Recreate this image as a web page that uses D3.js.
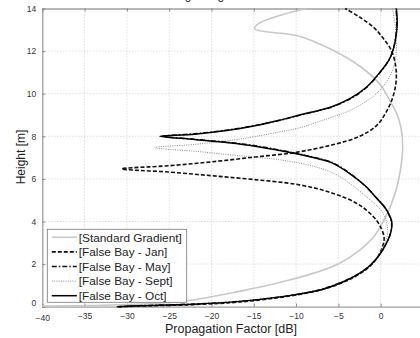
<!DOCTYPE html>
<html>
<head>
<meta charset="utf-8">
<script src="https://cdn.jsdelivr.net/npm/d3@7"></script>
<style>
  body { margin: 0; background: #fff; }
  text { font-family: "Liberation Sans", Arial, sans-serif; }
</style>
</head>
<body>
<div id="chart"></div>
<script>
// Tick values
const xTicks = [-40, -35, -30, -25, -20, -15, -10, -5, 0];
const yTicks = [0, 2, 4, 6, 8, 10, 12, 14];

// Curves as [propagation factor dB, height m]
const standardGradient = [
  [-40, 0.03], [-30, 0.1], [-23, 0.27], [-16.7, 0.72], [-10.8, 1.25], [-4.85, 2.04],
  [-1, 3.2], [0.8, 4.4], [1.9, 5.6], [2.4, 6.6], [2.6, 7.5], [2.4, 8.4], [1.85, 9.1],
  [0.9, 9.8], [-0.1, 10.45], [-2.5, 11.3], [-5.7, 12.05], [-9.6, 12.7], [-14.9, 13.05],
  [-14.4, 13.3], [-9.6, 13.93], [-8.8, 14]
];
const falseBayJan = [
  [-31, 0], [-28.5, 0.03], [-22, 0.1], [-16.7, 0.22], [-10.8, 0.5], [-7, 0.8],
  [-4.85, 1.08], [-3, 1.42], [-1.5, 1.82], [-0.4, 2.3], [0.2, 2.8], [0.4, 3.25], [-0.4, 4.0],
  [-2.5, 4.77], [-5.7, 5.33], [-9.6, 5.72], [-15, 5.97], [-20, 6.15], [-25, 6.32],
  [-30.6, 6.47], [-25, 6.62], [-20, 6.8], [-15, 7.02], [-10, 7.25], [-5.7, 7.6],
  [-2.5, 8.0], [-0.5, 8.5], [0.6, 9.1], [1.4, 9.8], [1.8, 10.5], [1.8, 11.2],
  [1.3, 12.0], [0.3, 12.6], [-0.8, 13.1], [-2.5, 13.6], [-4.2, 14.0]
];
const falseBayMay = [
  [-31.2, 0], [-28.5, 0.05], [-22, 0.13], [-16.7, 0.25], [-10.8, 0.52], [-7, 0.82],
  [-4.85, 1.12], [-3, 1.46], [-1.5, 1.86], [-0.3, 2.36], [0.7, 3.0], [1.2, 3.5], [1.25, 4.0],
  [0.5, 4.65], [-0.6, 5.15], [-1.8, 5.65], [-3.5, 6.22], [-5.7, 6.76], [-8.5, 7.07], [-11.5, 7.32],
  [-15, 7.57], [-18, 7.72], [-22, 7.86], [-25.8, 8.0], [-22, 8.12], [-18, 8.3],
  [-15, 8.5], [-12, 8.74], [-9.6, 8.98], [-7, 9.24], [-5.7, 9.38], [-3.5, 9.78],
  [-1.7, 10.28], [-0.1, 10.98], [1.0, 11.6], [1.5, 12.1], [1.8, 12.8], [1.9, 13.4], [1.8, 14]
];
const falseBaySept = [
  [-31, 0], [-28.5, 0.04], [-22, 0.12], [-16.7, 0.24], [-10.8, 0.52], [-7, 0.81],
  [-4.85, 1.1], [-3, 1.45], [-1.5, 1.85], [-0.4, 2.35], [0.4, 2.9], [0.8, 3.4], [0.7, 3.95],
  [0.1, 4.5], [-1.5, 5.1], [-3.7, 5.8], [-5.5, 6.25], [-8, 6.6], [-12, 6.9],
  [-17, 7.1], [-22, 7.3], [-26.7, 7.47], [-22, 7.62], [-17, 7.85], [-12, 8.2],
  [-9.6, 8.4], [-6.5, 8.8], [-3.7, 9.2], [-0.5, 10.0], [1.05, 10.8], [1.7, 11.5],
  [1.85, 12.05], [1.8, 12.9], [1.4, 14]
];
const falseBayOct = [
  [-31, 0], [-28.5, 0.04], [-22, 0.12], [-16.7, 0.25], [-10.8, 0.52], [-7, 0.8],
  [-4.85, 1.1], [-3, 1.45], [-1.5, 1.85], [-0.3, 2.35], [0.7, 3.0], [1.2, 3.5], [1.3, 4.0],
  [0.6, 4.6], [-0.5, 5.1], [-1.7, 5.63], [-3.5, 6.2], [-5.7, 6.74], [-8.5, 7.05], [-11.5, 7.3],
  [-15, 7.55], [-18, 7.7], [-22, 7.85], [-26.1, 8.0], [-22, 8.1], [-18, 8.28],
  [-15, 8.48], [-12, 8.75], [-9.6, 9.0], [-7, 9.25], [-5.7, 9.4], [-3.5, 9.8],
  [-1.7, 10.3], [-0.1, 11.0], [1.0, 11.6], [1.5, 12.1], [1.85, 12.8], [1.95, 13.4], [1.85, 14]
];

const seriesNames = ["[Standard Gradient]", "[False Bay - Jan]", "[False Bay - May]", "[False Bay - Sept]", "[False Bay - Oct]"];
const seriesData = [standardGradient, falseBayJan, falseBayMay, falseBaySept, falseBayOct];
const seriesStyle = [
  { stroke: "#c8c8c8", width: 1.6, dash: null },
  { stroke: "#111", width: 1.6, dash: "4,2" },
  { stroke: "#111", width: 1.4, dash: "5,2,1.5,2" },
  { stroke: "#8a8a8a", width: 1.0, dash: "1,1.3" },
  { stroke: "#000", width: 1.5, dash: null }
];

const width = 420, height = 338;
const margin = { left: 42.3, right: -3, top: 8.5, bottom: 31.3 };
const innerW = width - margin.left - margin.right;
const innerH = height - margin.top - margin.bottom;

const svg = d3.select("#chart").append("svg").attr("width", width).attr("height", height);

const x = d3.scaleLinear().domain([-40, 5]).range([0, innerW]);
const y = d3.scaleLinear().domain([0, 14]).range([innerH, 0]);

// Title (cut off at the top of the picture, as in the source)
svg.append("text")
  .attr("x", 146).attr("y", -1.5)
  .attr("font-size", 12).attr("fill", "#222")
  .text("Coverage diagram");

const g = svg.append("g").attr("transform", `translate(${margin.left},${margin.top})`);

// Grid
g.append("g").selectAll("line").data(xTicks.slice(1)).join("line")
  .attr("x1", d => x(d)).attr("x2", d => x(d)).attr("y1", 0).attr("y2", innerH)
  .attr("stroke", "#c4c4c4").attr("stroke-width", 0.8).attr("stroke-dasharray", "1,2");
g.append("g").selectAll("line").data(yTicks.slice(1, -1)).join("line")
  .attr("y1", d => y(d)).attr("y2", d => y(d)).attr("x1", 0).attr("x2", innerW)
  .attr("stroke", "#c4c4c4").attr("stroke-width", 0.8).attr("stroke-dasharray", "1,2");

// Axes (ticks inside like MATLAB)
const xAxis = g.append("g").attr("transform", `translate(0,${innerH})`)
  .call(d3.axisBottom(x).tickValues(xTicks).tickSize(-3).tickPadding(6).tickFormat(d3.format("d")));
const yAxis = g.append("g")
  .call(d3.axisLeft(y).tickValues(yTicks).tickSize(-3).tickPadding(6).tickFormat(d3.format("d")));
const xTop = g.append("g")
  .call(d3.axisTop(x).tickValues(xTicks).tickSize(-3).tickFormat(""));
[xAxis, yAxis, xTop].forEach(a => {
  a.select(".domain").attr("stroke", "#a0a0a0").attr("stroke-width", 1.3);
  a.selectAll(".tick line").attr("stroke", "#888");
  a.selectAll(".tick text").attr("font-size", 8.5).attr("fill", "#333")
    .attr("font-family", "Liberation Sans, Arial, sans-serif");
});
xAxis.selectAll(".tick text").filter(d => d === -40).attr("dy", "0.95em");
yAxis.selectAll(".tick text").filter(d => d === 0).attr("dy", "-0.1em");

// Curves
const line = d3.line()
  .x(d => x(d[0])).y(d => y(d[1]))
  .curve(d3.curveCatmullRom.alpha(0.5));

g.append("g").selectAll("path").data(seriesData).join("path")
  .attr("d", line)
  .attr("fill", "none")
  .attr("stroke", (d, i) => seriesStyle[i].stroke)
  .attr("stroke-width", (d, i) => seriesStyle[i].width)
  .attr("stroke-dasharray", (d, i) => seriesStyle[i].dash);

// Axis labels
svg.append("text")
  .attr("x", 231).attr("y", 333)
  .attr("text-anchor", "middle").attr("font-size", 12.5).attr("fill", "#222")
  .text("Propagation Factor [dB]");
svg.append("text")
  .attr("transform", "translate(25,157) rotate(-90)")
  .attr("text-anchor", "middle").attr("font-size", 12).attr("fill", "#222")
  .text("Height [m]");

// Legend
const legend = svg.append("g").attr("transform", "translate(47.3,229.3)");
legend.append("rect")
  .attr("width", 139.4).attr("height", 73)
  .attr("fill", "#fff").attr("stroke", "#777").attr("stroke-width", 0.8);
const items = legend.selectAll("g.item").data(seriesNames).join("g")
  .attr("class", "item")
  .attr("transform", (d, i) => `translate(0,${8 + i * 14.6})`);
items.append("line")
  .attr("x1", 4.5).attr("x2", 29.5).attr("y1", 0).attr("y2", 0)
  .attr("stroke", (d, i) => seriesStyle[i].stroke)
  .attr("stroke-width", (d, i) => seriesStyle[i].width)
  .attr("stroke-dasharray", (d, i) => seriesStyle[i].dash);
items.append("text")
  .attr("x", 31.5).attr("y", 4.2)
  .attr("font-size", 11.8).attr("fill", "#222")
  .text(d => d);
</script>
</body>
</html>
